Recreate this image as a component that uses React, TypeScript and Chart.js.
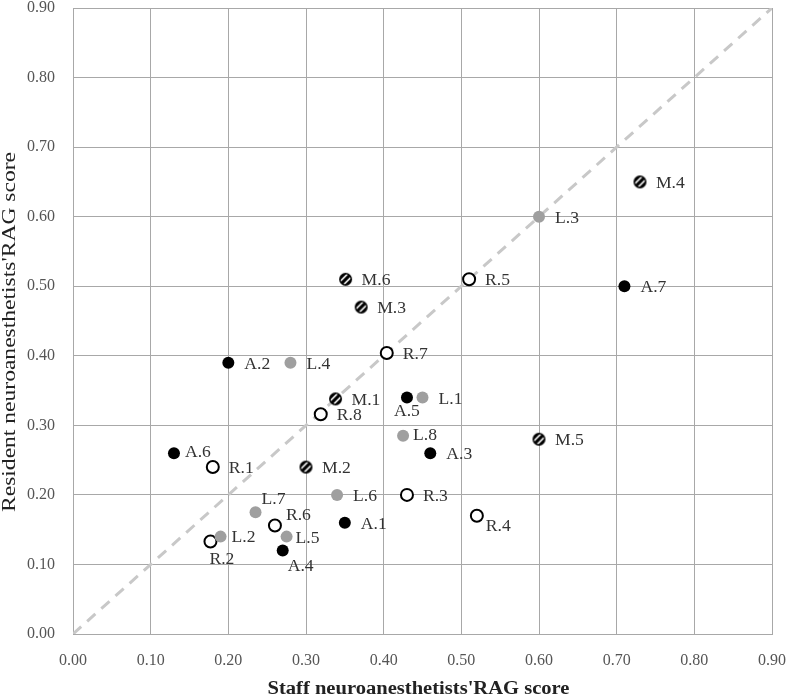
import React, { useEffect, useRef } from 'react';
import { Chart, registerables } from 'chart.js';

Chart.register(...registerables);

// ---- data ----
const aLabels = ['A.1', 'A.2', 'A.3', 'A.4', 'A.5', 'A.6', 'A.7'];
const aX = [0.35, 0.20, 0.46, 0.27, 0.43, 0.13, 0.71];
const aY = [0.16, 0.39, 0.26, 0.12, 0.34, 0.26, 0.50];

const lLabels = ['L.1', 'L.2', 'L.3', 'L.4', 'L.5', 'L.6', 'L.7', 'L.8'];
const lX = [0.45, 0.19, 0.60, 0.28, 0.275, 0.34, 0.235, 0.425];
const lY = [0.34, 0.14, 0.60, 0.39, 0.14, 0.20, 0.175, 0.285];

const rLabels = ['R.1', 'R.2', 'R.3', 'R.4', 'R.5', 'R.6', 'R.7', 'R.8'];
const rX = [0.18, 0.177, 0.43, 0.52, 0.51, 0.26, 0.404, 0.319];
const rY = [0.24, 0.133, 0.20, 0.17, 0.51, 0.156, 0.404, 0.316];

const mLabels = ['M.1', 'M.2', 'M.3', 'M.4', 'M.5', 'M.6'];
const mX = [0.338, 0.30, 0.371, 0.73, 0.60, 0.351];
const mY = [0.338, 0.24, 0.47, 0.65, 0.28, 0.51];

const diagX = [0, 0.9];
const diagY = [0, 0.9];

const xTitle = "Staff neuroanesthetists'RAG score";
const yTitle = "Resident neuroanesthetists'RAG score";

// label placement offsets (px) relative to point centre
const labelOffsets: Record<string, [number, number]> = {
  'A.5': [-13, 14],
  'R.2': [-1, 18],
  'A.4': [5, 16],
  'R.4': [9, 11],
  'L.7': [6, -12],
  'R.6': [11, -10],
  'L.8': [10, 0],
  'A.6': [11, 0],
  'L.2': [11, 1],
  'L.5': [9, 2],
};

const FONT = '"Liberation Serif", "DejaVu Serif", serif';

function makeHatch(): HTMLCanvasElement {
  const s = 15;
  const c = document.createElement('canvas');
  c.width = s;
  c.height = s;
  const ctx = c.getContext('2d')!;
  ctx.beginPath();
  ctx.arc(s / 2, s / 2, 6.5, 0, Math.PI * 2);
  ctx.fillStyle = '#000';
  ctx.fill();
  ctx.save();
  ctx.beginPath();
  ctx.arc(s / 2, s / 2, 5, 0, Math.PI * 2);
  ctx.clip();
  ctx.strokeStyle = '#fff';
  ctx.lineWidth = 1.6;
  for (const d of [-3.4, 3.4]) {
    const k = s + d;
    ctx.beginPath();
    ctx.moveTo(0, k);
    ctx.lineTo(s, k - s);
    ctx.stroke();
  }
  ctx.restore();
  return c;
}

const pts = (xs: number[], ys: number[]) => xs.map((x, i) => ({ x, y: ys[i] }));

function drawStretched(ctx: CanvasRenderingContext2D, text: string, cx: number, cy: number, targetW: number, rotate: boolean) {
  ctx.save();
  ctx.translate(cx, cy);
  if (rotate) ctx.rotate(-Math.PI / 2);
  const w = ctx.measureText(text).width;
  ctx.scale(targetW / w, 1);
  ctx.textAlign = 'center';
  ctx.textBaseline = 'middle';
  ctx.fillText(text, 0, 0);
  ctx.restore();
}

const labelPlugin = {
  id: 'pointLabels',
  afterDatasetsDraw(chart: any) {
    const ctx = chart.ctx;
    ctx.save();
    ctx.font = `16px ${FONT}`;
    ctx.fillStyle = '#333';
    ctx.textAlign = 'left';
    ctx.textBaseline = 'middle';
    chart.data.datasets.forEach((ds: any, di: number) => {
      if (!ds.pointNames) return;
      const meta = chart.getDatasetMeta(di);
      meta.data.forEach((el: any, i: number) => {
        const name = ds.pointNames[i];
        const off = labelOffsets[name] || [16, 2];
        ctx.save();
        ctx.translate(el.x + off[0], el.y + off[1]);
        ctx.scale(1.1, 1);
        ctx.fillText(name, 0, 0);
        ctx.restore();
      });
    });
    // axis titles
    const area = chart.chartArea;
    ctx.fillStyle = '#222';
    ctx.font = `bold 18px ${FONT}`;
    drawStretched(ctx, xTitle, (area.left + area.right) / 2 - 4, 689, 302, false);
    ctx.font = `18px ${FONT}`;
    drawStretched(ctx, yTitle, 10, (area.top + area.bottom) / 2 + 11, 360, true);
    ctx.restore();
  },
};

export default function App() {
  const ref = useRef<HTMLCanvasElement | null>(null);

  useEffect(() => {
    if (!ref.current) return;
    const hatch = makeHatch();
    const gridColor = '#a8a8a8';
    const tickColor = '#555';
    const zeroPad = (scale: any) => {
      scale.paddingTop = 0;
      scale.paddingBottom = 0;
      scale.paddingLeft = 0;
      scale.paddingRight = 0;
    };
    const chart = new Chart(ref.current, {
      type: 'scatter',
      data: {
        datasets: [
          {
            label: 'A',
            data: pts(aX, aY),
            pointNames: aLabels,
            pointStyle: 'circle',
            pointRadius: 6,
            backgroundColor: '#000',
            borderColor: '#000',
            borderWidth: 0,
            order: 0,
          } as any,
          {
            label: 'L',
            data: pts(lX, lY),
            pointNames: lLabels,
            pointStyle: 'circle',
            pointRadius: 6,
            backgroundColor: '#9f9f9f',
            borderColor: '#9f9f9f',
            borderWidth: 0,
            order: 0,
          } as any,
          {
            label: 'R',
            data: pts(rX, rY),
            pointNames: rLabels,
            pointStyle: 'circle',
            pointRadius: 6,
            backgroundColor: '#fff',
            borderColor: '#000',
            borderWidth: 2,
            order: 0,
          } as any,
          {
            label: 'M',
            data: pts(mX, mY),
            pointNames: mLabels,
            pointStyle: hatch,
            pointRadius: 7,
            backgroundColor: '#000',
            borderColor: '#000',
            order: 0,
          } as any,
          {
            label: 'diag',
            data: pts(diagX, diagY),
            showLine: true,
            pointRadius: 0,
            borderColor: '#c8c8c8',
            borderWidth: 3,
            borderDash: [11, 8],
            order: 5,
          } as any,
        ],
      },
      options: {
        animation: false,
        responsive: true,
        maintainAspectRatio: false,
        layout: { padding: { top: 7, right: 15, left: 0, bottom: 0 } },
        plugins: {
          legend: { display: false },
          tooltip: { enabled: false },
        },
        scales: {
          x: {
            type: 'linear',
            min: 0,
            max: 0.9,
            ticks: {
              stepSize: 0.1,
              callback: (v: any) => Number(v).toFixed(2),
              font: { family: FONT, size: 16 },
              color: tickColor,
              padding: 17,
              maxRotation: 0,
            },
            grid: { color: gridColor, drawTicks: false, lineWidth: 1 },
            border: { color: gridColor },
            title: { display: false },
            afterFit: (scale: any) => {
              scale.height = 63;
              zeroPad(scale);
            },
          },
          y: {
            type: 'linear',
            min: 0,
            max: 0.9,
            ticks: {
              stepSize: 0.1,
              callback: (v: any) => Number(v).toFixed(2),
              font: { family: FONT, size: 16 },
              color: tickColor,
              padding: 18,
            },
            grid: { color: gridColor, drawTicks: false, lineWidth: 1 },
            border: { color: gridColor },
            title: { display: false },
            afterFit: (scale: any) => {
              scale.width = 73;
              zeroPad(scale);
            },
          },
        },
      } as any,
      plugins: [labelPlugin],
    });
    return () => chart.destroy();
  }, []);

  return (
    <div style={{ position: 'absolute', left: 0, top: 0, width: 787, height: 697, background: '#fff' }}>
      <canvas ref={ref} />
    </div>
  );
}
